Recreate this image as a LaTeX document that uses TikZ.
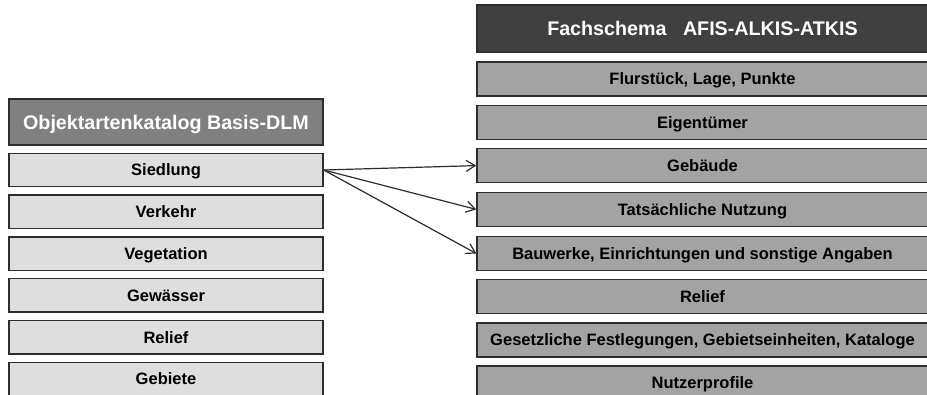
\documentclass[tikz,border=0pt]{standalone}
\usepackage{fontspec}
\setmainfont{Liberation Sans}
\usetikzlibrary{arrows.meta}
\definecolor{edgegray}{RGB}{45,45,45}
\definecolor{lefthead}{RGB}{128,128,128}
\definecolor{leftrow}{RGB}{222,222,222}
\definecolor{righthead}{RGB}{64,64,64}
\definecolor{rightrow}{RGB}{163,163,163}
\tikzset{
  box/.style={draw=edgegray, line width=1.4pt, inner sep=0pt, text height=11.8pt, text depth=0pt,
    font=\bfseries\fontsize{16.5}{19}\selectfont},
  hdr/.style={box, text=white, text height=14.1pt, font=\bfseries\fontsize{19.7}{23}\selectfont},
  leftbox/.style={box, fill=leftrow, minimum width=314pt, minimum height=33.5pt},
  rightbox/.style={box, fill=rightrow, minimum width=451pt, minimum height=34pt},
  lefthdr/.style={hdr, fill=lefthead, minimum width=314pt, minimum height=46pt},
  righthdr/.style={hdr, fill=righthead, minimum width=451pt, minimum height=47pt},
  link/.style={draw=edgegray, line width=1.2pt, -{Straight Barb[length=9pt,width=11pt]}}
}
\begin{document}
\begin{tikzpicture}[x=1pt,y=-1pt]
  \useasboundingbox (0,0) rectangle (927,394);
  \clip (0,0) rectangle (927,394);
  % left column: object catalogue
  \node[lefthdr] (lh) at (166,122) {Objektartenkatalog Basis-DLM};
  \node[leftbox] (l1) at (166,170)   {Siedlung};
  \node[leftbox] (l2) at (166,211.8) {Verkehr};
  \node[leftbox] (l3) at (166,253.6) {Vegetation};
  \node[leftbox] (l4) at (166,295.4) {Gewässer};
  \node[leftbox] (l5) at (166,337.2) {Relief};
  \node[leftbox] (l6) at (166,379)   {Gebiete};
  % right column: application schema
  \node[righthdr] (rh) at (702.5,28.5) {Fachschema\ \ \ AFIS-ALKIS-ATKIS};
  \node[rightbox] (r1) at (702.5,79)   {Flurstück, Lage, Punkte};
  \node[rightbox] (r2) at (702.5,122.3) {Eigentümer};
  \node[rightbox] (r3) at (702.5,165.6) {Gebäude};
  \node[rightbox] (r4) at (702.5,209.4) {Tatsächliche Nutzung};
  \node[rightbox] (r5) at (702.5,253.5) {Bauwerke, Einrichtungen und sonstige Angaben};
  \node[rightbox] (r6) at (702.5,296.5) {Relief};
  \node[rightbox] (r7) at (702.5,339.8) {Gesetzliche Festlegungen, Gebietseinheiten, Kataloge};
  \node[rightbox] (r8) at (702.5,383)   {Nutzerprofile};
  % mapping arrows
  \draw[link] (l1.east) -- (r3.west);
  \draw[link] (l1.east) -- (r4.west);
  \draw[link] (l1.east) -- (r5.west);
\end{tikzpicture}
\end{document}
